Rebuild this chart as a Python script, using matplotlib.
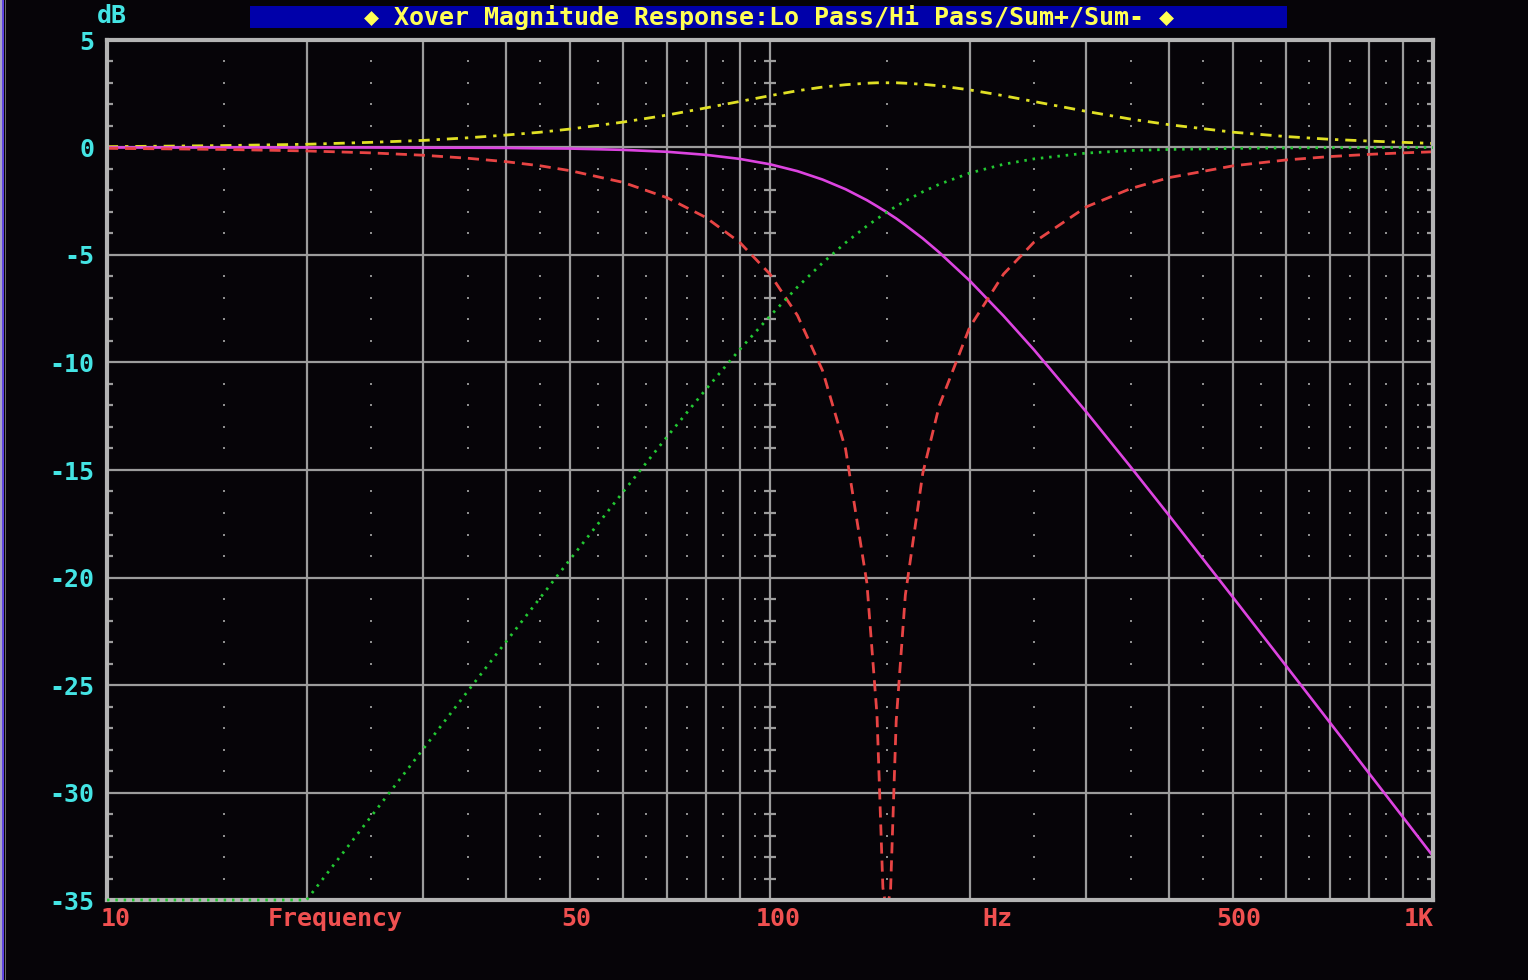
import matplotlib
matplotlib.use("Agg")
import matplotlib.pyplot as plt
from matplotlib.patches import Rectangle
from matplotlib import transforms
from matplotlib.ticker import NullLocator

# ---- crossover magnitude data (dB) ----
freq_hz = [10, 12, 15, 20, 25, 30, 35, 40, 45, 50, 60, 70, 80, 90, 100,
           110, 120, 130, 140, 145, 148, 149, 150, 151, 152, 155, 160, 170,
           180, 200, 225, 250, 300, 350, 400, 500, 600, 700, 800, 900, 1000]

lo_pass_db = [0.0, 0.0, 0.0, 0.0, 0.0, -0.01, -0.01, -0.02, -0.04, -0.05,
              -0.11, -0.20, -0.34, -0.53, -0.78, -1.10, -1.49, -1.94, -2.45,
              -2.73, -2.90, -2.95, -3.01, -3.07, -3.13, -3.30, -3.61, -4.23,
              -4.88, -6.19, -7.83, -9.40, -12.30, -14.86, -17.12, -20.95,
              -24.10, -26.77, -29.09, -31.13, -32.96]

hi_pass_db = [-35.0, -35.0, -35.0, -35.0, -31.13, -27.97, -25.29, -22.98,
              -20.95, -19.14, -16.03, -13.44, -11.26, -9.40, -7.84, -6.49,
              -5.37, -4.43, -3.65, -3.32, -3.13, -3.07, -3.01, -2.95, -2.90,
              -2.73, -2.49, -2.06, -1.71, -1.19, -0.78, -0.53, -0.26, -0.14,
              -0.09, -0.04, -0.02, -0.01, -0.01, 0.0, 0.0]

sum_plus_db = [0.04, 0.06, 0.09, 0.15, 0.24, 0.33, 0.45, 0.58, 0.71, 0.86,
               1.18, 1.51, 1.84, 2.14, 2.41, 2.64, 2.81, 2.92, 2.99, 3.01,
               3.01, 3.01, 3.01, 3.01, 3.01, 3.01, 2.99, 2.94, 2.87, 2.68,
               2.41, 2.14, 1.68, 1.32, 1.06, 0.71, 0.51, 0.38, 0.30, 0.24,
               0.19]

sum_minus_db = [-0.04, -0.06, -0.09, -0.16, -0.25, -0.36, -0.50, -0.66,
                -0.85, -1.08, -1.62, -2.34, -3.25, -4.41, -5.89, -7.81,
                -10.37, -14.02, -20.25, -26.39, -34.43, -35.0, -35.0, -35.0,
                -34.55, -26.68, -20.82, -15.15, -12.01, -8.37, -5.89, -4.41,
                -2.76, -1.91, -1.40, -0.85, -0.58, -0.42, -0.32, -0.25, -0.20]

# ---- axis annotations ----
y_ticks = [5, 0, -5, -10, -15, -20, -25, -30, -35]
y_tick_labels = ["5", "0", "-5", "-10", "-15", "-20", "-25", "-30", "-35"]
x_grid_hz = [20, 30, 40, 50, 60, 70, 80, 90, 100,
             200, 300, 400, 500, 600, 700, 800, 900]
x_dot_hz = [15, 25, 35, 45, 55, 65, 75, 85, 95,
            150, 250, 350, 450, 550, 650, 750, 850, 950]
x_label_pos = [10, 22.1, 50, 100, 220, 500, 1000]
x_label_text = ["10", "Frequency", "50", "100", "Hz", "500", "1K"]
x_label_shift_px = [9, 0, 6, 8, 0, 5, -14]

title_text = "\u25c6 Xover Magnitude Response:Lo Pass/Hi Pass/Sum+/Sum- \u25c6"

# ---- style ----
BG = "#060408"
GRID = "#9c9c9c"
FRAME = "#b4b4b4"
CYAN = "#44e4e4"
LABEL_RED = "#f05050"
MONO = ["DejaVu Sans Mono", "DejaVu Sans"]
FS = 18

W, H = 1528, 980
fig = plt.figure(figsize=(W / 100, H / 100), dpi=100, facecolor=BG)
ax = fig.add_axes([107 / W, 80 / H, 1326 / W, 860 / H])
ax.set_facecolor(BG)
ax.set_xscale("log")
ax.set_xlim(10, 1000)
ax.set_ylim(-35, 5)

# major grid
for fx in x_grid_hz:
    ax.axvline(fx, color=GRID, lw=1.6, zorder=1)
for fy in y_ticks[1:-1]:
    ax.axhline(fy, color=GRID, lw=1.6, zorder=1)

# dotted half-decade columns at every 1 dB
minor_db = [v for v in range(-34, 5) if v % 5 != 0]
dx = [fx for fx in x_dot_hz for _ in minor_db]
dy = [v for _ in x_dot_hz for v in minor_db]
ax.scatter(dx, dy, s=3.0, marker="s", c="#8e8e8e", linewidths=0, zorder=1)

# 1 dB tick marks across the 100 Hz line
ax.plot([100] * len(minor_db), minor_db, ls="none", marker="_", ms=8.5,
        mew=1.6, color=GRID, zorder=1)

# curves
ax.plot(freq_hz, hi_pass_db, color="#22c832", lw=2.0, ls=(0, (0.9, 2.1)),
        zorder=8, clip_on=False)
ax.plot(freq_hz, sum_plus_db, color="#e0e024", lw=2.0,
        ls=(0, (4, 2.5, 1.2, 2.5)), zorder=4)
ax.plot(freq_hz, lo_pass_db, color="#dc44e0", lw=1.9, zorder=5)
ax.plot(freq_hz, sum_minus_db, color="#e84444", lw=2.0, ls=(0, (4, 2.5)),
        zorder=6)

# frame
for sp in ax.spines.values():
    sp.set_color(FRAME)
    sp.set_linewidth(3)
    sp.set_zorder(7)

# y axis ticks and labels
ax.set_yticks(y_ticks)
ax.set_yticklabels(y_tick_labels)
ax.set_yticks(list(range(-34, 5)), minor=True)
ax.tick_params(axis="y", which="major", length=0, pad=9, labelcolor=CYAN,
               labelsize=FS)
ax.tick_params(axis="y", which="minor", direction="in", length=4.5,
               width=1.6, color=GRID, left=True, right=True)
for lab in ax.get_yticklabels():
    lab.set_fontfamily(MONO)
    lab.set_fontweight("bold")

# x axis labels
ax.set_xticks([])
ax.xaxis.set_minor_locator(NullLocator())
base = transforms.blended_transform_factory(ax.transData, ax.transAxes)
for pos, txt, sh in zip(x_label_pos, x_label_text, x_label_shift_px):
    tr = transforms.offset_copy(base, fig=fig, x=sh, y=-19, units="dots")
    ax.text(pos, 0, txt, transform=tr, ha="center", va="center",
            color=LABEL_RED, fontsize=FS, fontweight="bold",
            family=MONO, clip_on=False)

# unit label
fig.text(97 / W, 1 - 16 / H, "dB", ha="left", va="center", color=CYAN,
         fontsize=FS, fontweight="bold", family=MONO)

# title bar
fig.patches.append(Rectangle((250 / W, 1 - 28 / H), 1037 / W, 22 / H,
                             transform=fig.transFigure, facecolor="#0000aa",
                             edgecolor="none", zorder=0))
fig.text(768.5 / W, 1 - 17 / H, title_text, ha="center", va="center",
         color="#ffff55", fontsize=FS, fontweight="bold", family=MONO)

# window edge on the left
fig.patches.append(Rectangle((0, 0), 1.5 / W, 1, transform=fig.transFigure,
                             facecolor="#a8a4c4", edgecolor="none"))
fig.patches.append(Rectangle((1.5 / W, 0), 2 / W, 1, transform=fig.transFigure,
                             facecolor="#5e44e0", edgecolor="none"))
fig.patches.append(Rectangle((5 / W, 0), 1.2 / W, 1, transform=fig.transFigure,
                             facecolor="#6a6a6a", edgecolor="none"))

fig.savefig("out.png", dpi=100, facecolor=BG)
